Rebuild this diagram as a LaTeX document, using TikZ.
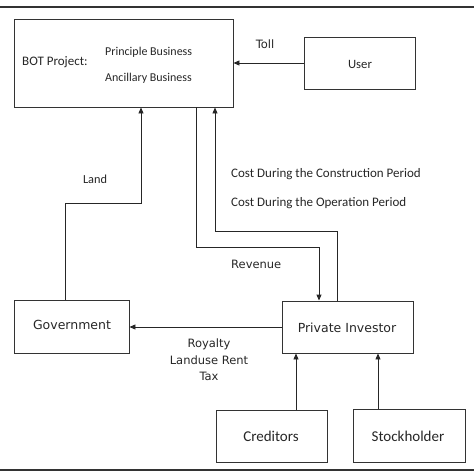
\documentclass[tikz,border=0pt]{standalone}
\usepackage{fontspec}
\setmainfont{Carlito}
\newfontfamily\lbl{DejaVu Sans}
\usetikzlibrary{arrows.meta}
\tikzset{
  box/.style={draw=black!80, line width=0.9pt, inner sep=0pt},
  arr/.style={draw=black!85, line width=0.9pt, -{Triangle[length=6pt,width=5pt]}},
  lab/.style={inner sep=0pt, font=\lbl\fontsize{11.5}{13}\selectfont, text=black!85},
  clab/.style={inner sep=0pt, font=\fontsize{13}{15}\selectfont, text=black!85},
  frame/.style={draw=black!80, line width=1.2pt}
}
\begin{document}
\begin{tikzpicture}[x=1pt,y=-1pt]
\useasboundingbox (0,0) rectangle (474,474);
\coordinate (ftl) at (0,7);
\coordinate (ftr) at (474,7);
\coordinate (fbl) at (0,470);
\coordinate (fbr) at (474,470);
\draw[frame] (ftl) -- (ftr);
\draw[frame] (fbl) -- (fbr);

\node[box, minimum width=219pt, minimum height=88pt] (bot) at (123.5,63) {};
\node[box, minimum width=111pt, minimum height=52pt] (user) at (359.5,63) {};
\node[box, minimum width=115pt, minimum height=53pt] (gov) at (71.5,326.5) {};
\node[box, minimum width=131pt, minimum height=52pt] (pi) at (347.5,327) {};
\node[box, minimum width=111pt, minimum height=52pt] (cred) at (271.5,436) {};
\node[box, minimum width=112pt, minimum height=53pt] (stock) at (409,435.5) {};

\node[clab, anchor=west] (botp) at (22,62) {BOT Project:};
\node[clab, anchor=west, font=\fontsize{12}{14}\selectfont] (prin) at (105,52) {Principle Business};
\node[clab, anchor=west, font=\fontsize{12}{14}\selectfont] (anc) at (105,78) {Ancillary Business};
\node[clab, font=\fontsize{12.7}{15}\selectfont] (usert) at (360,64) {User};
\node[lab, font=\lbl\fontsize{12.5}{14}\selectfont] (govt) at (72,325) {Government};
\node[lab, font=\lbl\fontsize{12.5}{14}\selectfont] (pit) at (347,328) {Private Investor};
\node[clab, font=\fontsize{15}{17}\selectfont] (credt) at (271,436) {Creditors};
\node[clab, font=\fontsize{15}{17}\selectfont] (stockt) at (408,436) {Stockholder};

\node[lab] (toll) at (265,44) {Toll};
\node[clab, font=\fontsize{12.3}{14}\selectfont] (land) at (95,179) {Land};
\node[clab, anchor=west] (cost1) at (231,174) {Cost During the Construction Period};
\node[clab, anchor=west] (cost2) at (231,203) {Cost During the Operation Period};
\node[lab, anchor=west] (rev) at (231,264) {Revenue};
\node[lab, align=center, font=\lbl\fontsize{11.5}{16.5}\selectfont] (roy) at (209,360) {Royalty\\Landuse Rent\\Tax};

\coordinate (l1) at (65,203);
\coordinate (l2) at (141,203);
\coordinate (r1) at (196,247);
\coordinate (r2) at (319,247);
\coordinate (c1) at (337,231);
\coordinate (c2) at (215,231);
\coordinate (k1) at (296,400);
\coordinate (k2) at (378,400);

\draw[arr] (user.west) -- (bot.east);
\draw[arr] (gov.north -| l1) |- (l2) -- (bot.south -| l2);
\draw[arr] (bot.south -| r1) |- (r2) -- (pi.north -| r2);
\draw[arr] (pi.north -| c1) |- (c2) -- (bot.south -| c2);
\draw[arr] (pi.west) -- (pi.west -| gov.east);
\draw[arr] (cred.north -| k1) -- (pi.south -| k1);
\draw[arr] (stock.north -| k2) -- (pi.south -| k2);
\end{tikzpicture}
\end{document}
